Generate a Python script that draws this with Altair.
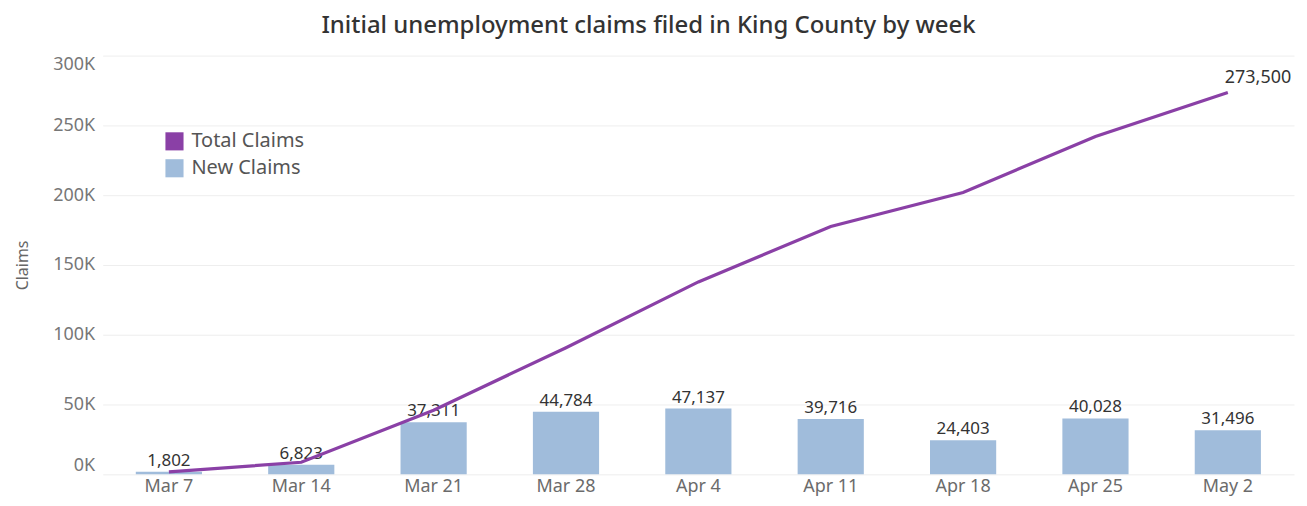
import altair as alt
import pandas as pd

weeks = ["Mar 7", "Mar 14", "Mar 21", "Mar 28", "Apr 4", "Apr 11", "Apr 18", "Apr 25", "May 2"]
new_claims = [1802, 6823, 37311, 44784, 47137, 39716, 24403, 40028, 31496]
total_claims = [1802, 8625, 45936, 90720, 137857, 177573, 201976, 242004, 273500]
y_ticks = [0, 50000, 100000, 150000, 200000, 250000, 300000]

df = pd.DataFrame({"week": weeks, "new": new_claims, "total": total_claims})
df["is_last"] = [i == len(weeks) - 1 for i in range(len(weeks))]

PURPLE = "#8a40a6"
BLUE = "#a0bcdb"
FONT = "Noto Sans"

color_scale = alt.Scale(domain=["Total Claims", "New Claims"], range=[PURPLE, BLUE])

x_axis = alt.Axis(labelAngle=0, labelFontSize=18, labelColor="#6b6b6b", labelFont=FONT,
                  labelPadding=3, ticks=False, domain=False, grid=False, title=None)
x = alt.X("week:N", sort=weeks, title=None,
          scale=alt.Scale(paddingInner=0.5, paddingOuter=0.25), axis=x_axis)

y_axis = alt.Axis(title="Claims", titleFontSize=16, titleColor="#666666", titleFont=FONT,
                  titleFontWeight="normal", titlePadding=22,
                  labelFontSize=18, labelColor="#777777", labelFont=FONT, labelPadding=8,
                  labelExpr="format(datum.value / 1000, 'd') + 'K'",
                  values=y_ticks, labelFlush=True, labelOverlap=False,
                  ticks=False, domain=False, gridColor="#eeeeee", gridWidth=1)

y_scale = alt.Scale(domain=[0, 300000], nice=False)

bars = alt.Chart(df).mark_bar().encode(
    x=x,
    y=alt.Y("new:Q", scale=y_scale, axis=y_axis),
    color=alt.Color("series:N", scale=color_scale,
                    legend=alt.Legend(title=None, orient="none", legendX=62, legendY=76,
                                      symbolType="square", symbolSize=330, symbolStrokeWidth=0,
                                      labelFontSize=20, labelColor="#555555", labelFont=FONT,
                                      rowPadding=7, symbolOpacity=1, labelOffset=7)),
).transform_calculate(series="'New Claims'")

bar_labels = alt.Chart(df).mark_text(baseline="bottom", dy=-2, fontSize=17, color="#333333", font=FONT).encode(
    x=alt.X("week:N", sort=weeks, axis=x_axis),
    y=alt.Y("new:Q", scale=y_scale, axis=y_axis),
    text=alt.Text("new:Q", format=","),
)

line = alt.Chart(df).mark_line(strokeWidth=3.2).encode(
    x=alt.X("week:N", sort=weeks, axis=x_axis),
    y=alt.Y("total:Q", scale=y_scale, axis=y_axis),
    color=alt.Color("series:N", scale=color_scale),
).transform_calculate(series="'Total Claims'")

last_label = alt.Chart(df).mark_text(align="left", baseline="bottom", dx=-3, dy=-6, fontSize=18,
                                     color="#333333", font=FONT).encode(
    x=alt.X("week:N", sort=weeks, axis=x_axis),
    y=alt.Y("total:Q", scale=y_scale, axis=y_axis),
    text=alt.Text("total:Q", format=","),
).transform_filter("datum.is_last")

chart = alt.layer(bars, bar_labels, line, last_label).properties(
    width=1195, height=420,
    title=alt.TitleParams("Initial unemployment claims filed in King County by week",
                          fontSize=24, font=FONT, fontWeight=500, color="#333333",
                          anchor="middle", dx=-50, offset=18),
    autosize=alt.AutoSizeParams(type="none"),
    padding={"left": 95, "top": 47, "right": 5, "bottom": 23},
).configure_view(stroke=None)

chart.save("out.html", embed_options={"renderer": "svg", "actions": False})
